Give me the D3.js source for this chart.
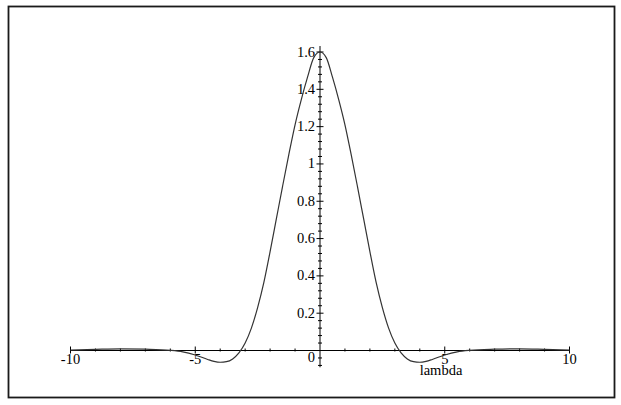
<!DOCTYPE html>
<html>
<head>
<meta charset="utf-8">
<script src="https://cdn.jsdelivr.net/npm/d3@7/dist/d3.min.js"></script>
<style>
body { margin: 0; background: #fff; }
text { font-family: "Liberation Serif", "Times New Roman", serif; font-size: 14.5px; fill: #000; }
</style>
</head>
<body>
<div id="plot"></div>
<script>
// curve values
var lambdaVals = [-10, -9, -8, -7, -6, -5.5, -5, -4.5, -4.25, -4, -3.75, -3.5, -3.25, -3, -2.75, -2.5, -2.25, -2, -1.75, -1.5, -1.25, -1, -0.75, -0.5, -0.25,
                  0, 0.25, 0.5, 0.75, 1, 1.25, 1.5, 1.75, 2, 2.25, 2.5, 2.75, 3, 3.25, 3.5, 3.75, 4, 4.25, 4.5, 5, 5.5, 6, 7, 8, 9, 10];
var fVals = [0.002, 0.006, 0.009, 0.007, 0.001, -0.007, -0.024, -0.048, -0.058, -0.063, -0.06, -0.045, -0.013, 0.04, 0.12, 0.23, 0.365, 0.53, 0.705, 0.88, 1.05, 1.21, 1.345, 1.465, 1.57,
             1.6, 1.57, 1.465, 1.345, 1.21, 1.05, 0.88, 0.705, 0.53, 0.365, 0.23, 0.12, 0.04, -0.013, -0.045, -0.06, -0.063, -0.058, -0.048, -0.024, -0.007, 0.001, 0.007, 0.009, 0.006, 0.002];

var xMajorTicks = [-10, -5, 5, 10];
var xTickLabels = ["-10", "-5", "5", "10"];
var xMinorTicks = [-9, -8, -7, -6, -4, -3, -2, -1, 1, 2, 3, 4, 6, 7, 8, 9];
var yMajorTicks = [0, 0.2, 0.4, 0.6, 0.8, 1, 1.2, 1.4, 1.6];
var yTickLabels = ["0", "0.2", "0.4", "0.6", "0.8", "1", "1.2", "1.4", "1.6"];
var yMinorTicks = [];
for (var i = -2; i <= 40; i++) {
    if (i % 5 != 0) yMinorTicks.push(i * 0.04);
}
var xLabel = "lambda";

var W = 621, H = 405;

var svg = d3.select("#plot").append("svg")
    .attr("width", W)
    .attr("height", H);

// outer frame
svg.append("rect")
    .attr("x", 8.5).attr("y", 6.5)
    .attr("width", 606).attr("height", 391)
    .attr("fill", "none")
    .attr("stroke", "#1a1a1a")
    .attr("stroke-width", 1.8);

var x = d3.scaleLinear().domain([-10, 10]).range([70.5, 569.5]);
var y = d3.scaleLinear().domain([0, 1.6]).range([350.5, 52]);

var axisG = svg.append("g").attr("stroke", "#000").attr("stroke-width", 1);

// x axis line + ticks
axisG.append("line")
    .attr("x1", x(-10)).attr("x2", x(10))
    .attr("y1", y(0)).attr("y2", y(0));
axisG.selectAll(".xmaj").data(xMajorTicks).enter().append("line")
    .attr("x1", function (d) { return x(d); }).attr("x2", function (d) { return x(d); })
    .attr("y1", y(0) - 4).attr("y2", y(0) + 3);
axisG.selectAll(".xmin").data(xMinorTicks).enter().append("line")
    .attr("x1", function (d) { return x(d); }).attr("x2", function (d) { return x(d); })
    .attr("y1", y(0) - 2).attr("y2", y(0) + 1);

// y axis line + ticks
axisG.append("line")
    .attr("x1", x(0)).attr("x2", x(0))
    .attr("y1", y(-0.09)).attr("y2", y(1.632));
axisG.selectAll(".ymaj").data(yMajorTicks).enter().append("line")
    .attr("x1", x(0) - 3.5).attr("x2", x(0) + 3.5)
    .attr("y1", function (d) { return y(d); }).attr("y2", function (d) { return y(d); });
axisG.selectAll(".ymin").data(yMinorTicks).enter().append("line")
    .attr("x1", x(0) - 2).attr("x2", x(0) + 2)
    .attr("y1", function (d) { return y(d); }).attr("y2", function (d) { return y(d); });

// tick labels
svg.selectAll(".xlab").data(xMajorTicks).enter().append("text")
    .attr("x", function (d) { return x(d); })
    .attr("y", y(0) + 13)
    .attr("text-anchor", "middle")
    .text(function (d, i) { return xTickLabels[i]; });

svg.selectAll(".ylab").data(yMajorTicks).enter().append("text")
    .attr("x", x(0) - 5)
    .attr("y", function (d) { return d == 0 ? y(d) + 11 : y(d) + 4.5; })
    .attr("text-anchor", "end")
    .text(function (d, i) { return yTickLabels[i]; });

svg.append("text")
    .attr("x", x(4.85))
    .attr("y", y(0) + 24)
    .attr("text-anchor", "middle")
    .text(xLabel);

// the curve
var pts = lambdaVals.map(function (l, i) { return [l, fVals[i]]; });
var line = d3.line()
    .x(function (d) { return x(d[0]); })
    .y(function (d) { return y(d[1]); })
    .curve(d3.curveMonotoneX);

svg.append("path")
    .datum(pts)
    .attr("d", line)
    .attr("fill", "none")
    .attr("stroke", "#333")
    .attr("stroke-width", 1.2);
</script>
</body>
</html>
